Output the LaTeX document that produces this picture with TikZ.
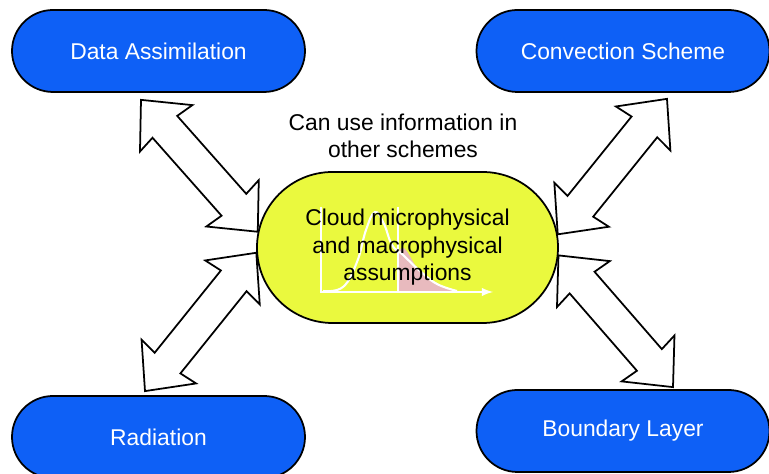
\documentclass[tikz,border=0pt]{standalone}
\usepackage{fontspec}
\setmainfont{Liberation Sans}
\usetikzlibrary{shapes.misc,calc,backgrounds}
\definecolor{boxblue}{RGB}{14,96,246}
\definecolor{cloudyellow}{RGB}{234,249,62}
\definecolor{tailpink}{RGB}{232,186,190}
%double block arrow from tip #1 to tip #2
\newcommand{\blockarrow}[2]{%
\filldraw[arrowbody] (#1) -- ($(#1)!0.76cm!(#2)!0.70cm!90:(#2)$) -- ($(#1)!0.72cm!(#2)!0.33cm!90:(#2)$)
 -- ($(#2)!0.72cm!(#1)!0.33cm!-90:(#1)$) -- ($(#2)!0.76cm!(#1)!0.70cm!-90:(#1)$) -- (#2)
 -- ($(#2)!0.76cm!(#1)!0.70cm!90:(#1)$) -- ($(#2)!0.72cm!(#1)!0.33cm!90:(#1)$)
 -- ($(#1)!0.72cm!(#2)!0.33cm!-90:(#2)$) -- ($(#1)!0.76cm!(#2)!0.70cm!-90:(#2)$) -- cycle;}
\begin{document}
\begin{tikzpicture}[
  bluebox/.style={rounded rectangle, draw=black, line width=1pt, fill=boxblue, text=white, minimum width=5.86cm, minimum height=1.64cm, inner sep=0pt, font=\fontsize{13}{15.6}\selectfont},
  cloudbox/.style={rounded rectangle, draw=black, line width=1pt, fill=cloudyellow, minimum width=6.02cm, minimum height=3.02cm, inner sep=0pt},
  notetext/.style={align=center, inner sep=0pt, font=\fontsize{13}{15.6}\selectfont},
  arrowbody/.style={fill=white, draw=black, line width=1pt, line join=miter},
  plotline/.style={white, line width=1.2pt}]
\useasboundingbox (0,0) rectangle (15.38,9.48);
%Boxes
\node[bluebox] (da) at (3.17,8.46) {Data Assimilation};
\node[bluebox] (cs) at (12.46,8.46) {Convection Scheme};
\node[bluebox] (rad) at (3.17,0.74) {Radiation};
\node[bluebox] (bl) at (12.46,0.86) {Boundary Layer};
\node[cloudbox] (cloud) at (8.15,4.53) {};
%Distribution sketch
\begin{scope}[shift={(cloud.center)}]
\fill[tailpink] plot[smooth, tension=.7] coordinates {(-0.19,-0.12) (-0.06,-0.02) (0.25,-0.49) (0.59,-0.73) (0.95,-0.88)} -- (-0.19,-0.89) -- cycle;
\draw[plotline] plot[smooth, tension=.7] coordinates {(-1.69,-0.87) (-1.29,-0.79) (-1.01,-0.29) (-0.83,0.35) (-0.65,0.71) (-0.47,0.47) (-0.31,0.05) (-0.1,-0.14) (0.25,-0.47) (0.59,-0.73) (0.99,-0.87)};
\draw[plotline] (-0.19,0.81) -- (-0.19,-0.89);
\draw[plotline, -latex] (-1.73,0.81) -- (-1.73,-0.89) -- (1.71,-0.89);
\end{scope}
%Texts
\node[notetext] (cloudtext) at (cloud.center) {Cloud microphysical\\and macrophysical\\assumptions};
\node[notetext] (note) at (8.06,6.76) {Can use information in\\other schemes};
%Arrows
\coordinate (daend) at ($(da.south)+(-0.35,-0.14)$);
\coordinate (csend) at ($(cs.south)+(0.88,-0.12)$);
\coordinate (radend) at ($(rad.north)+(-0.27,0.08)$);
\coordinate (blend) at ($(bl.north)+(1.0,0.04)$);
\begin{scope}[on background layer]
\blockarrow{daend}{cloud.174}
\blockarrow{radend}{cloud.182}
\blockarrow{csend}{cloud.5}
\blockarrow{blend}{cloud.-3}
\end{scope}
\end{tikzpicture}
\end{document}
